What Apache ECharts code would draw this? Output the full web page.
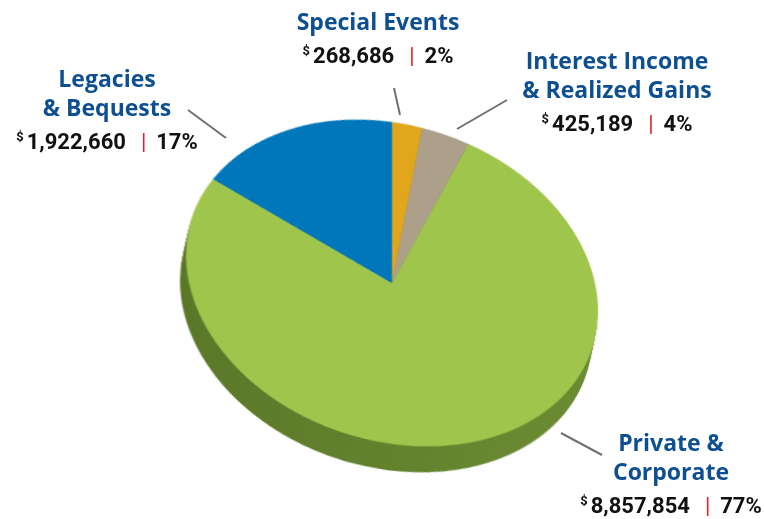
<!DOCTYPE html>
<html>
<head>
<meta charset="utf-8">
<script src="https://cdn.jsdelivr.net/npm/echarts@6/dist/echarts.min.js"></script>
<style>
  html, body { margin: 0; padding: 0; width: 764px; height: 519px; overflow: hidden; background: #fff; }
  #pie { position: absolute; left: 142px; top: 33px; width: 500px; height: 500px;
         transform-origin: 250px 250px; transform: matrix(1, 0.136, 0, 0.7816, 0, 0); }
  #labels { position: absolute; left: 0; top: 0; width: 764px; height: 519px; }
</style>
</head>
<body>
<div id="pie"></div>
<div id="labels"></div>
<script>
// ---- data ----
const categories = ['Special Events', 'Interest Income & Realized Gains', 'Private & Corporate', 'Legacies & Bequests'];
const values = [268686, 425189, 8857854, 1922660];
const titleLines = [['Special Events'], ['Interest Income', '& Realized Gains'], ['Private &', 'Corporate'], ['Legacies', '& Bequests']];
const topColors = ['#e1a61b', '#aca08a', '#a0c54c', '#0077bb'];
const sideColors = ['#a27712', '#7c735f', '#5f7d2c', '#004f7e'];

const total = values.reduce((a, b) => a + b, 0);

// ---- pie (top face + extruded side) ----
const pieChart = echarts.init(document.getElementById('pie'), null, { renderer: 'canvas' });
const R = 206, CX = 250, CY = 250;
const layers = 16, dx = -6, dy = 34.3;
const series = [];
function pieData(colors, gradient) {
  return categories.map((c, i) => ({
    name: c, value: values[i],
    itemStyle: { color: (gradient && i === 2) ? new echarts.graphic.LinearGradient(0, 0, 1, 0, [
      { offset: 0, color: '#5b7829' }, { offset: 1, color: '#6c8c33' }]) : colors[i] }
  }));
}
for (let k = layers; k >= 1; k--) {
  series.push({
    type: 'pie', silent: true, animation: false,
    radius: R, center: [CX + dx * k / layers, CY + dy * k / layers],
    startAngle: 90, clockwise: true,
    label: { show: false }, labelLine: { show: false },
    itemStyle: { borderWidth: 0 },
    data: pieData(sideColors, true)
  });
}
series.push({
  type: 'pie', silent: true, animation: false,
  radius: R, center: [CX, CY],
  startAngle: 90, clockwise: true,
  label: { show: false }, labelLine: { show: false },
  itemStyle: { borderWidth: 0 },
  data: pieData(topColors, false)
});
pieChart.setOption({ series });

// ---- labels ----
const labelChart = echarts.init(document.getElementById('labels'));
const labelPos = [[378, 9], [617, 48], [671, 430], [107, 66]];
const leaders = [[[394, 88], [400, 115]], [[457, 129], [507, 100]], [[561, 433], [602, 455]], [[188, 110], [226, 138]]];
const fmt = v => v.toString().replace(/\B(?=(\d{3})+(?!\d))/g, ',');
const tfont = '"Open Sans", Roboto, sans-serif';
const vfont = 'Roboto, "DejaVu Sans", sans-serif';
const graphics = [];
categories.forEach((c, i) => {
  const pct = Math.round(values[i] / total * 100);
  const lines = titleLines[i].map(t => '{t|' + t + '}');
  lines.push('{d|$}{v|' + fmt(values[i]) + '}{s||}{p|' + pct + '%}');
  graphics.push({
    type: 'text', x: labelPos[i][0], y: labelPos[i][1], silent: true,
    style: {
      text: lines.join('\n'), align: 'center', verticalAlign: 'top',
      rich: {
        t: { fontFamily: tfont, fontWeight: 'bold', fontSize: 23, lineHeight: 29, fill: '#0d4f91' },
        d: { fontFamily: vfont, fontWeight: 'bold', fontSize: 13, lineHeight: 39, fill: '#111', verticalAlign: 'top', padding: [7, 3, 0, 0] },
        v: { fontFamily: vfont, fontWeight: 'bold', fontSize: 22, lineHeight: 39, fill: '#111' },
        s: { fontFamily: vfont, fontWeight: 'normal', fontSize: 22, lineHeight: 39, fill: '#e2222c', padding: [0, 10, 0, 15] },
        p: { fontFamily: vfont, fontWeight: 'bold', fontSize: 22, lineHeight: 39, fill: '#111' }
      }
    }
  });
  graphics.push({
    type: 'line', silent: true,
    shape: { x1: leaders[i][0][0], y1: leaders[i][0][1], x2: leaders[i][1][0], y2: leaders[i][1][1] },
    style: { stroke: '#707070', lineWidth: 2 }
  });
});
labelChart.setOption({ animation: false, graphic: graphics });
</script>
</body>
</html>
